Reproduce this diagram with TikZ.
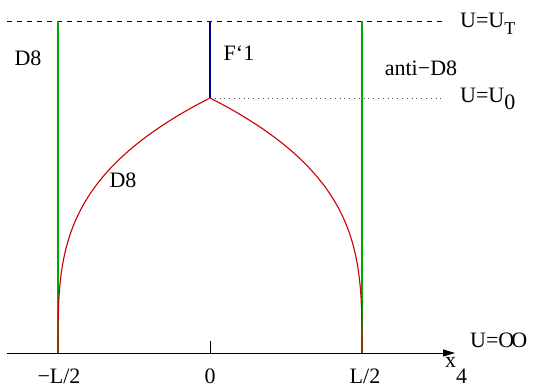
\documentclass[tikz,border=0pt]{standalone}
\usepackage{fontspec}
\setmainfont{Liberation Serif}
\usetikzlibrary{arrows.meta}
\definecolor{DGREEN}{RGB}{0,170,0}
\definecolor{DRED}{RGB}{200,0,0}
\definecolor{DBLUE}{RGB}{0,0,140}

\begin{document}
\begin{tikzpicture}[x=1pt, y=1pt,
  %% Labels — plain serif text
  lbl/.style={font=\rmfamily\fontsize{22}{26}\selectfont, inner sep=0pt},
  rlbl/.style={lbl, anchor=base west},
  %% Brane lines — green D8 pair, blue F-string, red curved D8
  dline/.style={DGREEN, line width=1.2pt},
  fline/.style={DBLUE, line width=1.1pt},
  cline/.style={DRED, line width=1.1pt, line join=round},
  %% Axis and level lines
  axis/.style={-{Triangle[length=12pt,width=7pt]}, line width=1pt},
  horiz/.style={line width=0.9pt, dash pattern=on 5pt off 5pt},
  dotline/.style={line width=0.9pt, dash pattern=on 1pt off 3.8pt, black!70}
]
\useasboundingbox (0,0) rectangle (536,389);

%% ── Key points ───────────────────────────────────────────────
\coordinate (ax0)  at (7,36);
\coordinate (ax1)  at (455,36);
\coordinate (lb)   at (58,36);
\coordinate (lt)   at (58,368);
\coordinate (rb)   at (362,36);
\coordinate (rt)   at (362,368);
\coordinate (peak) at (210,291);
\coordinate (top)  at (210,368);
\coordinate (ht0)  at (7,368);
\coordinate (ht1)  at (442,368);
\coordinate (hz1)  at (442,291);
\coordinate (tick) at (210,48);

%% ── Level lines ──────────────────────────────────────────────
\draw[horiz]   (ht0) -- (ht1);
\draw[dotline] (peak) -- (hz1);

%% ── Straight branes ──────────────────────────────────────────
\draw[dline] (lb) -- (lt);
\draw[dline] (rb) -- (rt);
\draw[fline] (peak) -- (top);

%% ── Curved D8  (x grows like u^3.3) ──────────────────────────
\draw[cline] (lb) -- plot[domain=0.002:1, samples=120]
  ({58+152*(\x)^3.3}, {36+255*\x});
\draw[cline] (rb) -- plot[domain=0.002:1, samples=120]
  ({362-152*(\x)^3.3}, {36+255*\x});

%% ── Axis ─────────────────────────────────────────────────────
\draw[axis] (ax0) -- (ax1);
\draw[line width=0.9pt] (ax0 -| tick) -- (tick);

%% ── Labels ───────────────────────────────────────────────────
\node[lbl] (d8l)  at (28,331)  {D8};
\node[lbl] (fone) at (239,336) {F‘1};
\node[lbl] (anti) at (421,321) {anti−D8};
\node[lbl] (d8c)  at (123,209) {D8};

\node[rlbl] (ut)   at (460,361) {U=U\raisebox{-7pt}{\fontsize{18}{18}\selectfont T}};
\node[rlbl] (uz)   at (460,286) {U=U\raisebox{-7pt}{0}};
\node[rlbl] (uinf) at (470,42)  {U=O\kern-3pt O};
\node[rlbl] (xf)   at (445,22)  {x\raisebox{-16pt}{4}};

\node[lbl] (lmin) at (59,13)  {−L/2};
\node[lbl] (zero) at (210,13) {0};
\node[lbl] (lpls) at (365,13) {L/2};

\end{tikzpicture}
\end{document}
